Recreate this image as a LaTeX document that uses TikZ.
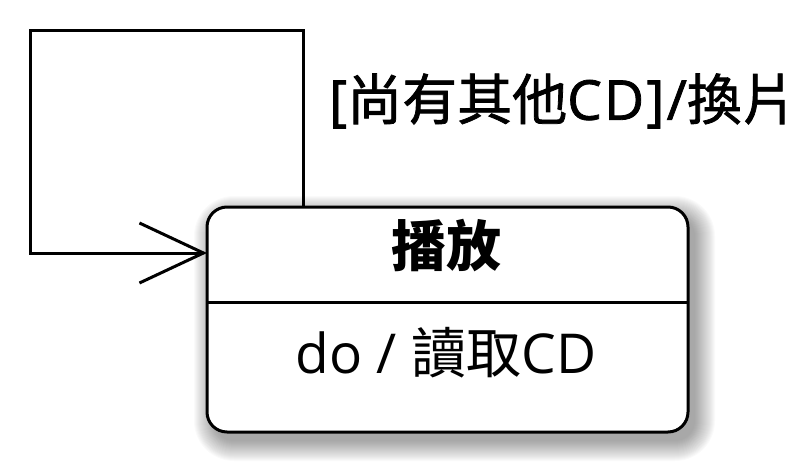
\documentclass[tikz,border=0pt]{standalone}
\usepackage{fontspec}
\setmainfont{Noto Sans CJK TC}
\newfontfamily\cjkmed[FakeBold=1.4]{Noto Sans CJK TC}
\newfontfamily\latin{Open Sans}
\newfontfamily\latinmed[FakeBold=1.4,LetterSpace=4]{Open Sans}
\usetikzlibrary{arrows.meta}
\tikzset{
  statebox/.style={draw, line width=3pt, rounded corners=20pt, fill=white,
    minimum width=481pt, minimum height=225pt, inner sep=0pt},
  loopline/.style={line width=3pt, line join=miter},
  bigtext/.style={font=\fontsize{55pt}{64pt}\selectfont, inner sep=0pt},
}
\begin{document}
\begin{tikzpicture}[x=1pt,y=-1pt]
\useasboundingbox (0,0) rectangle (808,463);
% shadow
\foreach \i in {0,...,20}{
  \fill[black, opacity=0.02, rounded corners=20pt+\i pt]
    (214-\i,216-\i) rectangle (695+\i,441+\i);
}
\node[statebox] (box) at (447.5,319.5) {};
\coordinate (dl) at (207,302);
\coordinate (dr) at (688,302);
\draw[line width=3pt] (dl) -- (dr);
\node[bigtext, font=\fontsize{55pt}{64pt}\selectfont\bfseries] (title) at (446,246) {播放};
\node[bigtext] (act) at (446,353) {{\latin do / }讀取{\latin CD}};
% self loop
\coordinate (c1) at (303,30);
\coordinate (c2) at (30,30);
\coordinate (tip) at (207,253);
\draw[loopline, -{Straight Barb[length=64pt, width=60pt, line width=3pt]}]
  (c1 |- box.north) -- (c1) -- (c2) -- (c2 |- tip) -- (tip);
\node[bigtext, font=\fontsize{55pt}{64pt}\selectfont\cjkmed] (lbl) at (563,101) {{\latinmed [}尚有其他{\latinmed CD]/}換片};
\end{tikzpicture}
\end{document}
